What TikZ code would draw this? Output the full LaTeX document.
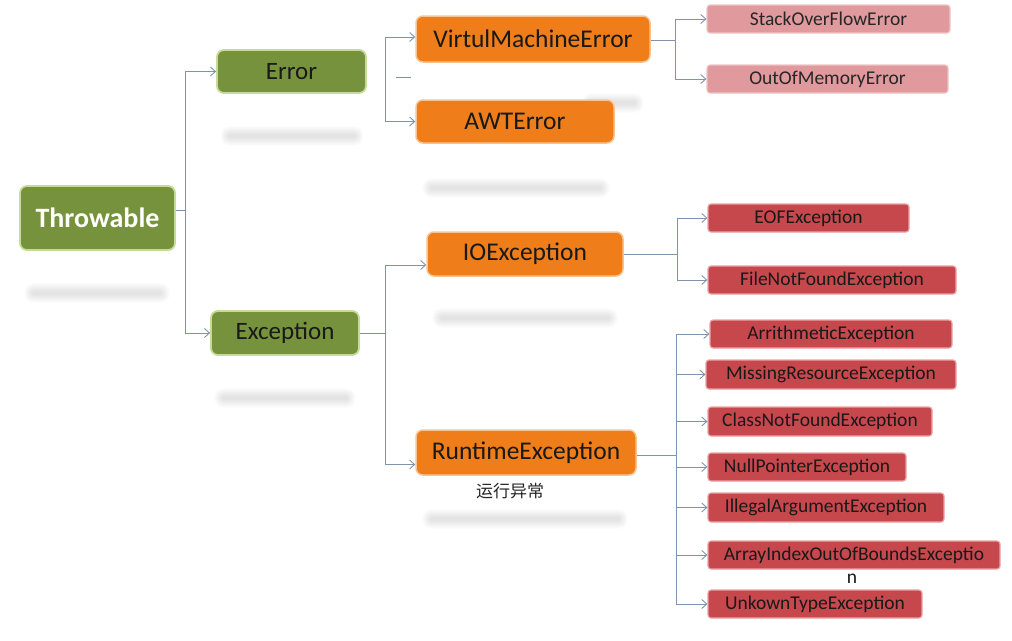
\documentclass[tikz,border=0pt]{standalone}
\usepackage{fontspec}
\setmainfont{Carlito}
\newfontfamily\cjk{Noto Sans CJK SC}
\usetikzlibrary{arrows.meta,calc}
\definecolor{grn}{HTML}{76923C}
\definecolor{grnb}{HTML}{C5DB9A}
\definecolor{org}{HTML}{EE7D1A}
\definecolor{orgb}{HTML}{F8C391}
\definecolor{pnk}{HTML}{E0999D}
\definecolor{pnkb}{HTML}{F0C4C6}
\definecolor{rd}{HTML}{C6474C}
\definecolor{rdb}{HTML}{EAA2A4}
\definecolor{ln}{HTML}{7F94AC}
\tikzset{
  box/.style={rounded corners=7pt, inner sep=0pt, anchor=center},
  gbox/.style={box, fill=grn, draw=grnb, line width=1.8pt, font=\fontsize{25}{28}\selectfont, text=black!90},
  obox/.style={box, fill=org, draw=orgb, line width=1.5pt, font=\fontsize{25.5}{28}\selectfont, text=black!90},
  pbox/.style={box, rounded corners=3pt, fill=pnk, draw=pnkb, line width=1.2pt, font=\fontsize{19.5}{22}\selectfont, text=black!85},
  rbox/.style={box, rounded corners=3pt, fill=rd, draw=rdb, line width=1.2pt, font=\fontsize{19.5}{22}\selectfont, text=black!90},
  conn/.style={draw=ln, line width=0.9pt},
  arr/.style={conn, -{Straight Barb[length=5pt,width=9pt,line width=0.9pt]}},
}
\newcommand{\shbar}[3]{%
  \foreach \w in {20,18,16,14,12,10,8,6,4}
    \draw[line width=\w pt, line cap=round, black, opacity=0.011] (#1,#3) -- (#2,#3);
}
\begin{document}
\begin{tikzpicture}[x=1pt,y=-1pt]
\useasboundingbox (0,0) rectangle (1012,640);
\fill[white] (0,0) rectangle (1012,640);
% soft shadow bars
\shbar{34}{160}{293}
\shbar{230}{354}{136}
\shbar{224}{346}{398}
\shbar{592}{634}{103}
\shbar{432}{600}{188}
\shbar{442}{608}{318}
\shbar{432}{618}{519}
% nodes
\node[gbox, minimum width=155pt, minimum height=64pt, text=white, font=\fontsize{28}{30}\selectfont\bfseries] (thr) at (97.5,218) {Throwable};
\node[gbox, minimum width=149pt, minimum height=43pt] (err) at (291.5,71.5) {Error};
\node[gbox, minimum width=148pt, minimum height=44pt] (exc) at (285,333) {Exception};
\node[obox, minimum width=234pt, minimum height=46pt] (vme) at (533,39) {VirtulMachineError};
\node[obox, minimum width=198pt, minimum height=43pt] (awt) at (515,121.5) {AWTError};
\node[obox, minimum width=196pt, minimum height=44pt] (ioe) at (525,254) {IOException};
\node[obox, minimum width=220pt, minimum height=45pt] (rte) at (526,452.5) {RuntimeException};
\node[font=\cjk\fontsize{17}{19}\selectfont, text=black!85, inner sep=0pt] (cn) at (510,491) {运行异常};
\node[pbox, minimum width=243pt, minimum height=28pt] (sof) at (828.5,19) {StackOverFlowError};
\node[pbox, minimum width=241pt, minimum height=28pt] (oom) at (827.5,79) {OutOfMemoryError};
\node[rbox, minimum width=201pt, minimum height=28pt] (eof) at (808.5,218) {EOFException};
\node[rbox, minimum width=248pt, minimum height=28pt] (fnf) at (832,280) {FileNotFoundException};
\node[rbox, minimum width=242pt, minimum height=28pt] (ari) at (831,334) {ArrithmeticException};
\node[rbox, minimum width=250pt, minimum height=29pt] (mis) at (831,374.5) {MissingResourceException};
\node[rbox, minimum width=224pt, minimum height=29pt] (cnf) at (820,421.5) {ClassNotFoundException};
\node[rbox, minimum width=198pt, minimum height=28pt] (npe) at (807,467) {NullPointerException};
\node[rbox, minimum width=236pt, minimum height=29pt] (iae) at (826,507.5) {IllegalArgumentException};
\node[rbox, minimum width=292pt, minimum height=28pt] (aio) at (854,555) {ArrayIndexOutOfBoundsExceptio};
\node[font=\fontsize{19.5}{22}\selectfont, text=black!90, inner sep=0pt] (nn) at (852,579) {n};
\node[rbox, minimum width=214pt, minimum height=28pt] (ukt) at (815,604) {UnkownTypeException};
% bus coordinates
\coordinate (tb) at (185,210);
\coordinate (eb) at (385,80);
\coordinate (xb) at (385,333);
\coordinate (vb) at (675,40);
\coordinate (ib) at (677,254);
\coordinate (rb) at (676,455);
% connectors
\draw[conn] (thr.east |- tb) -- (tb);
\draw[arr] (tb) |- (err.west);
\draw[arr] (tb) |- (exc.west);
\draw[arr] (eb) |- ($(vme.west)+(0,-2)$);
\draw[arr] (eb) |- (awt.west);
\draw[conn] (396,77) -- (411,77);
\draw[conn] (exc.east) -- (xb);
\draw[arr] (xb) |- ($(ioe.west)+(0,11)$);
\draw[arr] (xb) |- ($(rte.west)+(0,12)$);
\draw[conn] (vme.east |- vb) -- (vb);
\draw[arr] (vb) |- (sof.west);
\draw[arr] (vb) |- (oom.west);
\draw[conn] (ioe.east) -- (ib);
\draw[arr] (ib) |- (eof.west);
\draw[arr] (ib) |- (fnf.west);
\draw[conn] (rte.east |- rb) -- (rb);
\foreach \t in {ari,mis,cnf,npe,iae,aio,ukt}
  \draw[arr] (rb) |- (\t.west);
\end{tikzpicture}
\end{document}
